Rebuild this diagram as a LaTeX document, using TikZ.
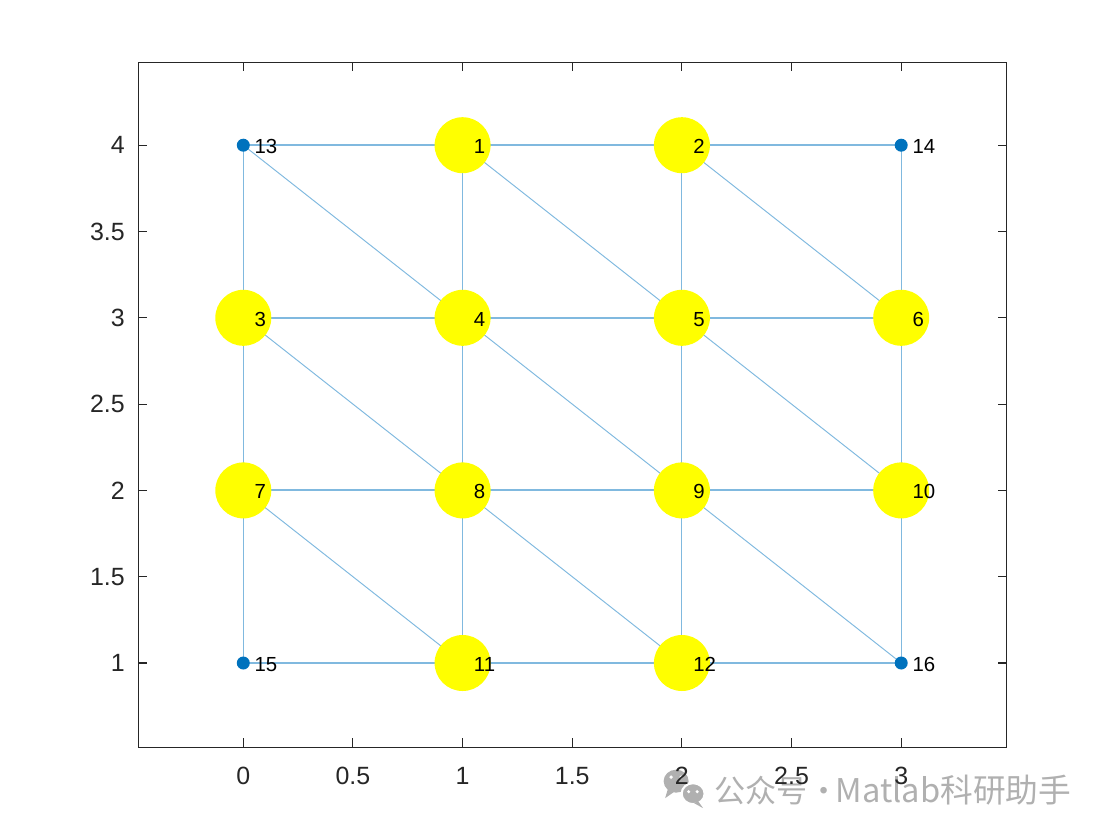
\documentclass[tikz,border=0pt]{standalone}
\usepackage{fontspec}
\setmainfont{Liberation Sans}
\newfontfamily\cjkfont{Noto Sans CJK SC}
\usepackage{xcolor}
\usepackage{tikz}
\usetikzlibrary{positioning,backgrounds}
\definecolor{gpyellow}{RGB}{255,255,0}
\definecolor{gpblue}{RGB}{0,114,189}
\definecolor{gpedgecol}{RGB}{128,185,223}
\definecolor{gpaxiscol}{RGB}{38,38,38}
\definecolor{gpmark}{RGB}{176,176,176}
\tikzset{
gpbig/.style={circle,fill=gpyellow,minimum size=1.12cm,inner sep=0pt},
gpsmall/.style={circle,fill=gpblue,minimum size=0.26cm,inner sep=0pt},
gplabel/.style={anchor=west,inner sep=0pt,font=\fontsize{11.6}{12}\selectfont,xshift=0.22cm,yshift=-0.03cm},
gpedge/.style={draw=gpedgecol,line width=0.55pt},
gpflat/.style={gpedge,line width=1.1pt},
gpaxis/.style={draw=gpaxiscol,line width=0.6pt},
gptick/.style={font=\fontsize{14.2}{16}\selectfont,text=gpaxiscol,inner sep=0pt},
gpwater/.style={font=\cjkfont\fontsize{17.7}{20}\selectfont,text=gpmark,inner sep=0pt}
}

\begin{document}
\begin{tikzpicture}[
x=4.386cm,
y=3.452cm
]
\useasboundingbox (-1.1094,0.01506) rectangle (3.9202,4.8413);
% watermark
\begin{scope}[shift={(-4.866cm,16.712cm)},x=0.02cm,y=-0.02cm]
\fill[gpmark] (676,781) ellipse (12.5 and 11.5);
\fill[gpmark] (668,788) -- (665,798) -- (675,791) -- cycle;
\fill[white] (671,777) circle (1.9);
\fill[white] (681,777) circle (1.9);
\fill[gpmark,draw=white,line width=1.2pt] (693,793.5) ellipse (11.5 and 10.5);
\fill[gpmark] (698,801) -- (703,808) -- (694,803) -- cycle;
\fill[white] (688.5,791.5) circle (1.7);
\fill[white] (697,791.5) circle (1.7);
\node[gpwater,anchor=west] (mark) at (714,790) {公众号\hspace{0.02em}·\hspace{-0.12em}{\fontsize{18.6}{20}\selectfont Matlab科研助手}};
\end{scope}
% axes
\draw[gpaxis] (-0.479,0.513) rectangle (3.479,4.480);
\foreach \x [count=\i] in {0,0.5,1,1.5,2,2.5,3} {
  \draw[gpaxis] (\x,0.513) -- ++(0,0.174cm);
  \draw[gpaxis] (\x,4.480) -- ++(0,-0.174cm);
  \node[gptick] (xt\i) at (\x,0.345) {\x};
}
\foreach \y [count=\i] in {1,1.5,2,2.5,3,3.5,4} {
  \draw[gpaxis] (-0.479,\y) -- ++(0.174cm,0);
  \draw[gpaxis] (3.479,\y) -- ++(-0.174cm,0);
  \node[gptick,anchor=east] (yt\i) at (-0.539,\y) {\y};
}
% vertices
\node[gpbig] (n1) at (1,4) {};
\node[gpbig] (n2) at (2,4) {};
\node[gpbig] (n3) at (0,3) {};
\node[gpbig] (n4) at (1,3) {};
\node[gpbig] (n5) at (2,3) {};
\node[gpbig] (n6) at (3,3) {};
\node[gpbig] (n7) at (0,2) {};
\node[gpbig] (n8) at (1,2) {};
\node[gpbig] (n9) at (2,2) {};
\node[gpbig] (n10) at (3,2) {};
\node[gpbig] (n11) at (1,1) {};
\node[gpbig] (n12) at (2,1) {};
\node[gpsmall] (n13) at (0,4) {};
\node[gpsmall] (n14) at (3,4) {};
\node[gpsmall] (n15) at (0,1) {};
\node[gpsmall] (n16) at (3,1) {};
\foreach \k in {1,...,16} {
  \node[gplabel] (l\k) at (n\k) {\k};
}
% edges
\begin{pgfonlayer}{background}
\draw[gpflat] (n13.center)--(n1.center);
\draw[gpflat] (n1.center)--(n2.center);
\draw[gpflat] (n2.center)--(n14.center);
\draw[gpflat] (n3.center)--(n4.center);
\draw[gpflat] (n4.center)--(n5.center);
\draw[gpflat] (n5.center)--(n6.center);
\draw[gpflat] (n7.center)--(n8.center);
\draw[gpflat] (n8.center)--(n9.center);
\draw[gpflat] (n9.center)--(n10.center);
\draw[gpflat] (n15.center)--(n11.center);
\draw[gpflat] (n11.center)--(n12.center);
\draw[gpflat] (n12.center)--(n16.center);
\draw[gpedge] (n13.center)--(n3.center);
\draw[gpedge] (n3.center)--(n7.center);
\draw[gpedge] (n7.center)--(n15.center);
\draw[gpedge] (n1.center)--(n4.center);
\draw[gpedge] (n4.center)--(n8.center);
\draw[gpedge] (n8.center)--(n11.center);
\draw[gpedge] (n2.center)--(n5.center);
\draw[gpedge] (n5.center)--(n9.center);
\draw[gpedge] (n9.center)--(n12.center);
\draw[gpedge] (n14.center)--(n6.center);
\draw[gpedge] (n6.center)--(n10.center);
\draw[gpedge] (n10.center)--(n16.center);
\draw[gpedge] (n13.center)--(n4.center);
\draw[gpedge] (n1.center)--(n5.center);
\draw[gpedge] (n2.center)--(n6.center);
\draw[gpedge] (n3.center)--(n8.center);
\draw[gpedge] (n4.center)--(n9.center);
\draw[gpedge] (n5.center)--(n10.center);
\draw[gpedge] (n7.center)--(n11.center);
\draw[gpedge] (n8.center)--(n12.center);
\draw[gpedge] (n9.center)--(n16.center);
\end{pgfonlayer}
\end{tikzpicture}
\end{document}
